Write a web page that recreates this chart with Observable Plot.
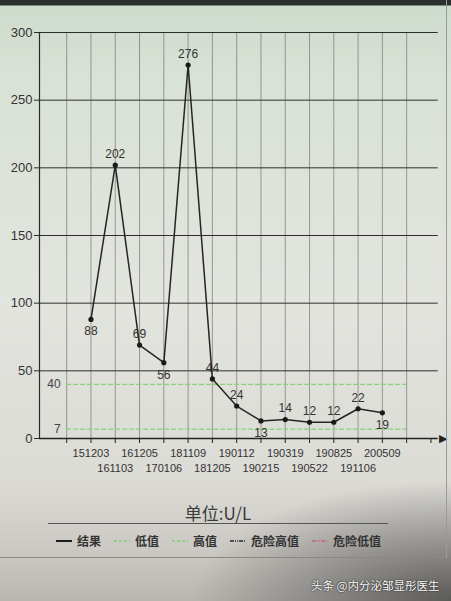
<!DOCTYPE html>
<html>
<head>
<meta charset="utf-8">
<script src="https://cdn.jsdelivr.net/npm/d3@7"></script>
<script src="https://cdn.jsdelivr.net/npm/@observablehq/plot@0.6"></script>
<style>
  html, body { margin: 0; padding: 0; }
  #page {
    position: relative; width: 451px; height: 601px; overflow: hidden;
    background: linear-gradient(180deg, #2a2f2b 0px, #2a2f2b 5px, #cddbcd 6px, #d9e2d6 80px, #e2e4de 300px, #dcdbd6 480px, #c9c6c1 560px, #b9b6b1 601px);
    font-family: "Noto Sans CJK SC", "Noto Sans", sans-serif;
  }
  #vignette {
    position: absolute; left: 0; top: 0; width: 451px; height: 601px; pointer-events: none;
    background: radial-gradient(ellipse 260px 120px at 451px 601px, rgba(60,60,58,0.75), rgba(60,60,58,0) 100%);
  }
  #chart { position: absolute; left: 0; top: 0; }
  #unit { position: absolute; top: 500px; left: 0; width: 436px; text-align: center; font-size: 17px; color: #3a3a3a; }
  #rule1 { position: absolute; top: 523px; left: 48px; width: 340px; border-top: 1px solid #555; }
  #legend { position: absolute; top: 532px; left: 56px; display: flex; align-items: center; font-size: 12px; font-weight: bold; color: #333; white-space: nowrap; }
  #legend .item { display: flex; align-items: center; margin-right: 13px; }
  #legend svg { margin-right: 5px; }
  #rule2 { position: absolute; top: 557px; left: 0; width: 446px; border-top: 1px solid #8a8884; }
  #edge { position: absolute; top: 0; left: 446px; width: 1px; height: 558px; background: #9a9a96; }
  #wm { position: absolute; top: 577px; left: 311px; font-size: 11.5px; color: #fff; white-space: nowrap; text-shadow: 0 0 2px #333, 0 0 1px #000; }
</style>
</head>
<body>
<div id="page">
  <div id="vignette"></div>
  <div id="chart"></div>
  <div id="unit">单位:U/L</div>
  <div id="rule1"></div>
  <div id="legend"></div>
  <div id="rule2"></div>
  <div id="edge"></div>
  <div id="wm">头条 @内分泌邹显彤医生</div>
</div>
<script>
// ---- data ----
const dates = ["151203","161103","161205","170106","181109","181205","190112","190215","190319","190522","190825","191106","200509"];
const values = [88, 202, 69, 56, 276, 44, 24, 13, 14, 12, 12, 22, 19];
const refValues = [40, 7];              // 高值 / 低值 reference lines
const yTicks = [0, 50, 100, 150, 200, 250, 300];
const legendNames = ["结果", "低值", "高值", "危险高值", "危险低值"];
const legendColors = ["#1e1e1e", "#7fcf6e", "#7fcf6e", "#2a2a2a", "#c9607a"];
const legendDashes = ["none", "3,2", "3,2", "4,1,1,1,1,1", "4,1,1,1,1,1"];

// ---- derived table ----
const rows = dates.map((d, i) => {
  const prev = i > 0 ? values[i - 1] : Infinity;
  const next = i < values.length - 1 ? values[i + 1] : Infinity;
  return { i, date: d, v: values[i], below: values[i] < prev && values[i] < next };
});
const xMin = -2.12, xMax = 14.6, gridRight = 14.3;
const tickIdx = d3.range(-1, dates.length + 2);

const chart = Plot.plot({
  width: 451,
  height: 480,
  marginLeft: 39,
  marginRight: 6,
  marginTop: 32,
  marginBottom: 42,
  x: { type: "linear", domain: [xMin, xMax], axis: null },
  y: { domain: [0, 300], axis: null },
  style: { background: "transparent", fontFamily: "Liberation Sans, Arial, sans-serif", color: "#333" },
  marks: [
    // vertical grid
    Plot.ruleX(tickIdx.slice(0, -1), { y1: 0, y2: 300, stroke: "#4a4a4a", strokeOpacity: 0.55, strokeWidth: 0.9 }),
    // horizontal grid
    Plot.ruleY(yTicks.slice(1), { x1: xMin, x2: gridRight, stroke: "#2e2e2e", strokeWidth: 1 }),
    // y axis line
    Plot.ruleX([xMin], { y1: 0, y2: 300, stroke: "#2a2a2a", strokeWidth: 1.2 }),
    Plot.axisY(yTicks, { label: null, tickSize: 5, tickPadding: 2, fontSize: 13, stroke: "#2a2a2a", fill: "#333" }),
    // reference lines
    Plot.ruleY(refValues, { x1: -1, x2: dates.length, stroke: "#86d276", strokeWidth: 1.2, strokeDasharray: "5,2" }),
    Plot.text(refValues, { x: -1, y: d => d, text: d => String(d), textAnchor: "end", dx: -6, fontSize: 12, fill: "#444" }),
    // x axis line with arrow
    Plot.ruleY([0], { x1: xMin, x2: xMax - 0.3, stroke: "#222", strokeWidth: 1.4 }),
    Plot.text([xMax], { x: d => d, y: 0, text: () => "▶", textAnchor: "end", fontSize: 11, fill: "#222", dx: 1 }),
    Plot.axisX(tickIdx, { label: null, tickSize: 5, tickFormat: () => "", stroke: "#222" }),
    // x labels, two staggered rows
    Plot.text(rows.filter(r => r.i % 2 === 0), { x: "i", y: 0, text: "date", dy: 15, fontSize: 11, fill: "#333" }),
    Plot.text(rows.filter(r => r.i % 2 === 1), { x: "i", y: 0, text: "date", dy: 30, fontSize: 11, fill: "#333" }),
    // series
    Plot.line(rows, { x: "i", y: "v", stroke: "#252525", strokeWidth: 1.5 }),
    Plot.dot(rows, { x: "i", y: "v", r: 2.6, fill: "#1a1a1a" }),
    Plot.text(rows.filter(r => !r.below), { x: "i", y: "v", text: d => String(d.v), dy: -11, fontSize: 12, fill: "#333" }),
    Plot.text(rows.filter(r => r.below), { x: "i", y: "v", text: d => String(d.v), dy: 12, fontSize: 12, fill: "#333" })
  ]
});
document.getElementById("chart").appendChild(chart);

// ---- legend ----
const legend = d3.select("#legend");
legendNames.forEach((name, k) => {
  const item = legend.append("div").attr("class", "item");
  const sw = item.append("svg").attr("width", 16).attr("height", 8);
  sw.append("line").attr("x1", 0).attr("x2", 16).attr("y1", 4).attr("y2", 4)
    .attr("stroke", legendColors[k]).attr("stroke-width", k === 0 ? 2 : 1.5)
    .attr("stroke-dasharray", legendDashes[k]);
  item.append("span").text(name);
});
</script>
</body>
</html>
